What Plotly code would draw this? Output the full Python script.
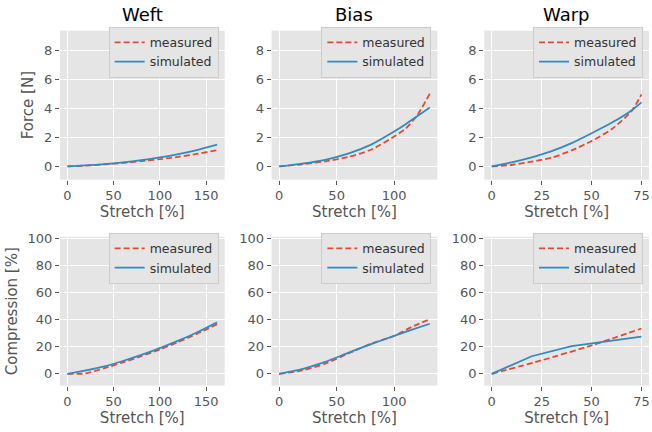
import plotly.graph_objects as go

# ---------------- data ----------------
weft_x = [0, 20, 40, 60, 80, 100, 120, 140, 162]
weft_force_sim = [0, 0.07, 0.16, 0.28, 0.43, 0.62, 0.85, 1.13, 1.5]
weft_force_meas = [0, 0.06, 0.14, 0.24, 0.36, 0.5, 0.66, 0.86, 1.12]
weft_comp_sim = [0, 2.5, 5.5, 9.5, 14, 19, 24.5, 30.5, 38]
weft_comp_meas = [0, 0.3, 4.2, 8.5, 13, 18, 23.5, 29.5, 36.6]

bias_x = [0, 20, 40, 60, 80, 100, 110, 120, 131]
bias_force_sim = [0, 0.2, 0.46, 0.88, 1.5, 2.4, 2.9, 3.45, 4.05]
bias_force_meas = [0, 0.15, 0.35, 0.65, 1.15, 2.05, 2.6, 3.5, 5.0]
bias_comp_x = [0, 20, 40, 60, 80, 100, 115, 131]
bias_comp_sim = [0, 3.5, 8.8, 15.5, 22, 28, 32.5, 37]
bias_comp_meas = [0, 2.5, 7.5, 15, 22.3, 28, 34.5, 40.3]

warp_x = [0, 10, 20, 25, 30, 40, 50, 60, 70, 75]
warp_force_sim = [0, 0.28, 0.62, 0.83, 1.05, 1.6, 2.28, 3.0, 3.85, 4.4]
warp_force_meas = [0, 0.1, 0.33, 0.45, 0.6, 1.1, 1.75, 2.55, 3.8, 4.95]
warp_comp_sim_x = [0, 20, 40, 50, 60, 75]
warp_comp_sim = [0, 13, 20.5, 22.5, 25, 27.5]
warp_comp_meas_x = [0, 25, 50, 75]
warp_comp_meas = [0, 10, 21, 33.5]

titles = ["Weft", "Bias", "Warp"]
x_ticks = [[0, 50, 100, 150], [0, 50, 100], [0, 25, 50, 75]]
x_ranges = [[-8.1, 170.1], [-6.55, 137.55], [-3.75, 78.75]]
force_ticks = [0, 2, 4, 6, 8]
comp_ticks = [0, 20, 40, 60, 80, 100]

# ---------------- style ----------------
W, H = 652, 432
RED = "#E24A33"
BLUE = "#348ABD"
BG = "#E5E5E5"
TXT = "#555555"
FONT = "DejaVu Sans"

col_px = [(60, 225), (272, 438), (485, 650)]
row_px = [(25, 176), (234, 385)]


def xd(a, b):
    return [a / W, b / W]


def yd(top, bot):
    return [1 - bot / H, 1 - top / H]


fig = go.Figure()

series = [
    (weft_x, weft_force_meas, weft_x, weft_force_sim),
    (bias_x, bias_force_meas, bias_x, bias_force_sim),
    (warp_x, warp_force_meas, warp_x, warp_force_sim),
    (weft_x, weft_comp_meas, weft_x, weft_comp_sim),
    (bias_comp_x, bias_comp_meas, bias_comp_x, bias_comp_sim),
    (warp_comp_meas_x, warp_comp_meas, warp_comp_sim_x, warp_comp_sim),
]

layout = {}
for i, (mx, my, sx, sy) in enumerate(series):
    r, c = divmod(i, 3)
    n = i + 1
    xa = "x" if n == 1 else f"x{n}"
    ya = "y" if n == 1 else f"y{n}"
    lg = "legend" if n == 1 else f"legend{n}"
    fig.add_trace(go.Scatter(x=mx, y=my, mode="lines", name="measured",
                             line=dict(color=RED, width=1.8, dash="6px,3px", shape="spline", smoothing=0.6),
                             xaxis=xa, yaxis=ya, legend=lg))
    fig.add_trace(go.Scatter(x=sx, y=sy, mode="lines", name="simulated",
                             line=dict(color=BLUE, width=1.8,
                                       shape="linear" if i == 5 else "spline", smoothing=0.6),
                             xaxis=xa, yaxis=ya, legend=lg))
    axis_common = dict(showgrid=True, gridcolor="white", gridwidth=1,
                       zeroline=False, showline=False, ticks="outside",
                       ticklen=4, tickwidth=1, tickcolor=TXT,
                       tickfont=dict(family=FONT, size=13, color=TXT))
    layout["xaxis" if n == 1 else f"xaxis{n}"] = dict(
        axis_common, domain=xd(*col_px[c]), anchor=ya, range=x_ranges[c],
        tickvals=x_ticks[c],
        title=dict(text="Stretch [%]", font=dict(family=FONT, size=15, color=TXT), standoff=1))
    if r == 0:
        yax = dict(axis_common, domain=yd(*row_px[r]), anchor=xa, range=[-0.9, 9.33],
                   tickvals=force_ticks)
        if c == 0:
            yax["title"] = dict(text="Force [N]", font=dict(family=FONT, size=15, color=TXT), standoff=6)
    else:
        yax = dict(axis_common, domain=yd(*row_px[r]), anchor=xa, range=[-8.7, 101.2],
                   tickvals=comp_ticks)
        if c == 0:
            yax["title"] = dict(text="Compression [%]", font=dict(family=FONT, size=15, color=TXT), standoff=6)
    layout["yaxis" if n == 1 else f"yaxis{n}"] = yax
    layout[lg] = dict(x=(col_px[c][1] - 6) / W, y=1 - (row_px[r][0] - 4) / H,
                      xanchor="right", yanchor="top", bgcolor=BG,
                      bordercolor="#CCCCCC", borderwidth=1,
                      font=dict(family=FONT, size=12.5, color="#333333"),
                      tracegroupgap=0, itemwidth=30)

annotations = []
for c, t in enumerate(titles):
    annotations.append(dict(text=t, xref="paper", yref="paper",
                            x=(col_px[c][0] + col_px[c][1]) / 2 / W, y=1 - 9 / H,
                            xanchor="center", yanchor="middle", showarrow=False,
                            font=dict(family=FONT, size=18, color="black")))

fig.update_layout(**layout)
fig.update_layout(width=W, height=H, margin=dict(l=0, r=0, t=0, b=0),
                  paper_bgcolor="white", plot_bgcolor=BG,
                  annotations=annotations, showlegend=True,
                  font=dict(family=FONT))

fig.write_html("out.html")
